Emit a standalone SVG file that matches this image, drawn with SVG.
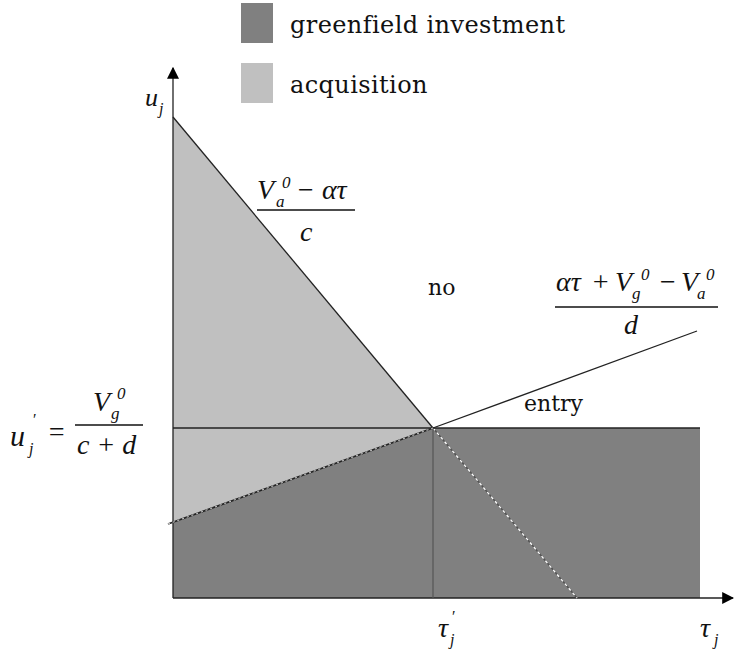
<svg xmlns="http://www.w3.org/2000/svg" width="734" height="655" viewBox="0 0 734 655">
<style>
.t{font-family:'DejaVu Serif',serif;fill:#111}
.m{font-family:'Liberation Serif',serif;font-style:italic;fill:#111}
.ln{stroke:#222;stroke-width:1.3;fill:none}
</style>
<defs>
<marker id="ah" viewBox="0 0 10 10" refX="9" refY="5" markerWidth="12" markerHeight="12" markerUnits="userSpaceOnUse" orient="auto"><path d="M0,0L10,5L0,10z" fill="#000"/></marker>
</defs>
<rect width="734" height="655" fill="#fff"/>
<g id="legend">
<rect x="241" y="3" width="32" height="40" fill="#808080"/>
<text class="t" x="290" y="33" font-size="24" letter-spacing="0.4">greenfield investment</text>
<rect x="241" y="63" width="32" height="40" fill="#c0c0c0"/>
<text class="t" x="290" y="93" font-size="24" letter-spacing="0.4">acquisition</text>
</g>
<g id="acquisition-region">
<polygon points="173,117 433,428 173,522" fill="#c0c0c0"/>
</g>
<g id="greenfield-region">
<polygon points="173,522 433,428 700,428 700,598 173,598" fill="#808080"/>
</g>
<g id="connectors">
<line class="ln" x1="173" y1="598" x2="173" y2="68" marker-end="url(#ah)"/>
<line class="ln" x1="173" y1="598" x2="733" y2="598" marker-end="url(#ah)"/>
<line class="ln" x1="173" y1="117" x2="433" y2="428"/>
<line x1="433" y1="428" x2="577" y2="598" stroke="#555" stroke-width="1.5"/>
<line x1="433" y1="428" x2="577" y2="598" stroke="#fff" stroke-width="1.3" stroke-dasharray="3,3"/>
<line class="ln" x1="173" y1="428" x2="700" y2="428"/>
<line x1="433" y1="428" x2="433" y2="598" stroke="#555" stroke-width="1.2"/>
<line x1="168" y1="524" x2="433" y2="428" stroke="#222" stroke-width="1.8"/>
<line x1="168" y1="524" x2="433" y2="428" stroke="#ddd" stroke-width="1" stroke-dasharray="2,3"/>
<line class="ln" x1="433" y1="428" x2="697" y2="331"/>
</g>
<g id="labels">
<text class="m" x="145" y="106" font-size="26">u</text>
<text class="m" x="159" y="114" font-size="16">j</text>
<text class="t" x="428" y="295" font-size="22">no</text>
<text class="t" x="524" y="411" font-size="22">entry</text>
</g>
<g id="formula-a">
<text class="m" x="257" y="199" font-size="28">V</text>
<text class="m" x="276" y="207" font-size="17">a</text>
<text class="m" x="282" y="188" font-size="17">0</text>
<text class="m" x="296" y="199" font-size="28">− ατ</text>
<line x1="257" y1="210" x2="355" y2="210" stroke="#111" stroke-width="1.6"/>
<text class="m" x="300" y="241" font-size="28">c</text>
</g>
<g id="formula-b">
<text class="m" x="556" y="291" font-size="28">ατ</text>
<text class="m" x="591" y="291" font-size="28">+</text>
<text class="m" x="615" y="291" font-size="28">V</text>
<text class="m" x="632" y="299" font-size="17">g</text>
<text class="m" x="641" y="280" font-size="17">0</text>
<text class="m" x="658" y="291" font-size="28">−</text>
<text class="m" x="681" y="291" font-size="28">V</text>
<text class="m" x="697" y="299" font-size="17">a</text>
<text class="m" x="706" y="280" font-size="17">0</text>
<line x1="555" y1="307" x2="718" y2="307" stroke="#111" stroke-width="1.6"/>
<text class="m" x="624" y="334" font-size="28">d</text>
</g>
<g id="formula-u">
<text class="m" x="10" y="446" font-size="30">u</text>
<text class="m" x="32" y="425" font-size="16">′</text>
<text class="m" x="29" y="454" font-size="16">j</text>
<text class="m" x="47" y="441" font-size="28">=</text>
<text class="m" x="93" y="411" font-size="28">V</text>
<text class="m" x="111" y="419" font-size="17">g</text>
<text class="m" x="117" y="399" font-size="17">0</text>
<line x1="75" y1="425" x2="143" y2="425" stroke="#111" stroke-width="1.6"/>
<text class="m" x="77" y="454" font-size="28">c + d</text>
</g>
<g id="axis-labels">
<text class="m" x="438" y="637" font-size="28">τ</text>
<text class="m" x="451" y="622" font-size="16">′</text>
<text class="m" x="450" y="645" font-size="16">j</text>
<text class="m" x="700" y="637" font-size="28">τ</text>
<text class="m" x="714" y="645" font-size="16">j</text>
</g>
</svg>
